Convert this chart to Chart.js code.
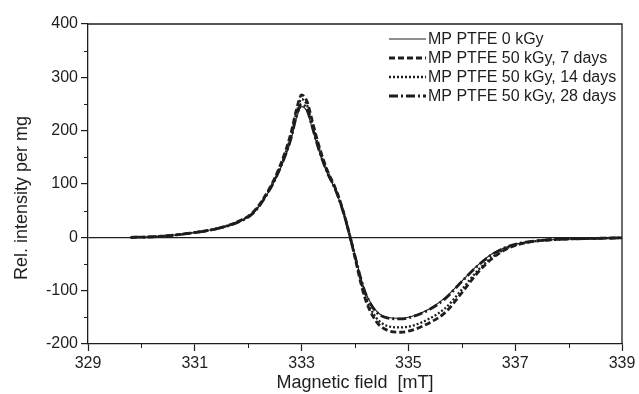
<!DOCTYPE html>
<html>
<head>
<meta charset="utf-8">
<script src="https://cdn.jsdelivr.net/npm/chart.js@4.4.1/dist/chart.umd.min.js"></script>
<style>
  html, body { margin: 0; padding: 0; background: #fff; }
  #wrap { width: 639px; height: 394px; }
</style>
</head>
<body>
<div id="wrap"><canvas id="epr"></canvas></div>
<script>
  // field values [mT], shared by all spectra
  const field = [329.8, 330.2, 330.6, 331.0, 331.4, 331.8, 332.1, 332.4, 332.6, 332.8, 332.9, 333.0, 333.1, 333.2, 333.3, 333.4, 333.5, 333.6, 333.7, 333.8, 333.9, 334.0, 334.1, 334.2, 334.4, 334.6, 334.85, 335.1, 335.4, 335.7, 336.0, 336.3, 336.6, 336.9, 337.2, 337.6, 338.0, 338.5, 339.0];

  const kGy0   = [0, 1, 4, 9, 16, 28, 46, 88, 128, 182, 222, 245, 236, 204, 170, 140, 116, 96, 71, 40, 4, -34, -72, -104, -138, -150, -152, -147, -134, -112, -82, -52, -29, -16, -9, -5, -3, -2, -1];
  const days7  = [0, 1, 4, 9, 16, 29, 48, 92, 135, 195, 238, 267, 255, 218, 180, 148, 121, 100, 74, 42, 4, -38, -82, -118, -158, -174, -178, -173, -160, -140, -104, -66, -37, -19, -10, -5, -3, -2, -1];
  const days14 = [0, 1, 4, 9, 16, 29, 47, 90, 132, 190, 232, 259, 248, 213, 176, 145, 119, 98, 72, 41, 4, -36, -78, -113, -151, -166, -169, -165, -152, -132, -98, -62, -35, -18, -10, -5, -3, -2, -1];
  const days28 = [0, 1, 4, 9, 16, 28, 46, 89, 130, 185, 226, 250, 240, 207, 172, 142, 117, 97, 72, 41, 4, -35, -74, -106, -140, -151, -153, -148, -135, -114, -83, -53, -30, -16, -9, -5, -3, -2, -1];

  const seriesNames = ['MP PTFE 0 kGy', 'MP PTFE 50 kGy, 7 days', 'MP PTFE 50 kGy, 14 days', 'MP PTFE 50 kGy, 28 days'];
  const xTicks = [329, 331, 333, 335, 337, 339];
  const yTicks = [-200, -100, 0, 100, 200, 300, 400];

  const ink = '#1e1e1e';
  const fontFam = "'Liberation Sans', Arial, sans-serif";

  const pts = ys => field.map((f, i) => ({ x: f, y: ys[i] }));

  function line(label, ys, width, dash) {
    return {
      label: label,
      data: pts(ys),
      borderColor: ink,
      borderWidth: width,
      borderDash: dash,
      pointRadius: 0,
      showLine: true,
      fill: false,
      cubicInterpolationMode: 'monotone'
    };
  }

  // frame, minor ticks, legend and y title
  const extras = {
    id: 'extras',
    afterDraw(chart) {
      const { ctx, chartArea: a, scales: { x, y } } = chart;
      ctx.save();
      ctx.strokeStyle = ink;
      ctx.lineWidth = 1.3;
      ctx.beginPath();
      ctx.moveTo(a.left, a.top);
      ctx.lineTo(a.right, a.top);
      ctx.lineTo(a.right, a.bottom);
      ctx.stroke();

      // minor ticks
      ctx.lineWidth = 1;
      ctx.beginPath();
      for (let v = 330; v < 339; v += 2) {
        const px = Math.round(x.getPixelForValue(v)) + 0.5;
        ctx.moveTo(px, a.bottom);
        ctx.lineTo(px, a.bottom + 4);
      }
      for (let v = -150; v < 400; v += 100) {
        const py = Math.round(y.getPixelForValue(v)) + 0.5;
        ctx.moveTo(a.left, py);
        ctx.lineTo(a.left - 4, py);
      }
      ctx.stroke();

      // legend
      ctx.font = '16px ' + fontFam;
      ctx.fillStyle = ink;
      ctx.textBaseline = 'middle';
      ctx.textAlign = 'left';
      chart.data.datasets.forEach((ds, i) => {
        const yy = a.top + 15 + i * 19;
        ctx.setLineDash(ds.borderDash || []);
        ctx.lineWidth = ds.borderWidth;
        ctx.beginPath();
        ctx.moveTo(a.right - 233, yy);
        ctx.lineTo(a.right - 196, yy);
        ctx.stroke();
        ctx.setLineDash([]);
        ctx.fillText(ds.label, a.right - 194, yy + 1);
      });

      // y title
      ctx.translate(22, 198);
      ctx.rotate(-Math.PI / 2);
      ctx.textAlign = 'center';
      ctx.font = '18px ' + fontFam;
      ctx.fillText('Rel. intensity per mg', 0, 0);
      ctx.restore();
    }
  };

  new Chart(document.getElementById('epr'), {
    type: 'scatter',
    data: {
      datasets: [
        line(seriesNames[0], kGy0, 1.1, []),
        line(seriesNames[1], days7, 2.8, [6, 3]),
        line(seriesNames[2], days14, 2.3, [2, 2]),
        line(seriesNames[3], days28, 2.8, [9, 3, 2, 3])
      ]
    },
    options: {
      responsive: true,
      maintainAspectRatio: false,
      animation: false,
      layout: { padding: { top: 24, right: 17, left: 0, bottom: 0 } },
      plugins: {
        legend: { display: false },
        tooltip: { enabled: false }
      },
      scales: {
        x: {
          type: 'linear',
          min: 329,
          max: 339,
          afterFit: s => { s.height = 50; },
          afterBuildTicks: s => { s.ticks = xTicks.map(v => ({ value: v })); },
          border: { color: ink, width: 1.3 },
          grid: { drawOnChartArea: false, tickLength: 7, tickColor: ink, tickWidth: 1.2 },
          ticks: { color: ink, padding: 3, font: { family: fontFam, size: 16 } },
          title: {
            display: true,
            text: 'Magnetic field  [mT]',
            color: ink,
            padding: { top: 0, bottom: 0 },
            font: { family: fontFam, size: 18 }
          }
        },
        y: {
          min: -200,
          max: 400,
          afterFit: s => { s.width = 88; },
          afterBuildTicks: s => { s.ticks = yTicks.map(v => ({ value: v })); },
          border: { color: ink, width: 1.3 },
          grid: {
            drawOnChartArea: true,
            color: c => (c.tick && c.tick.value === 0) ? ink : 'rgba(0,0,0,0)',
            lineWidth: 1.2,
            tickLength: 7,
            tickColor: ink,
            tickWidth: 1.2
          },
          ticks: { color: ink, padding: 3, font: { family: fontFam, size: 16 } }
        }
      }
    },
    plugins: [extras]
  });
</script>
</body>
</html>
